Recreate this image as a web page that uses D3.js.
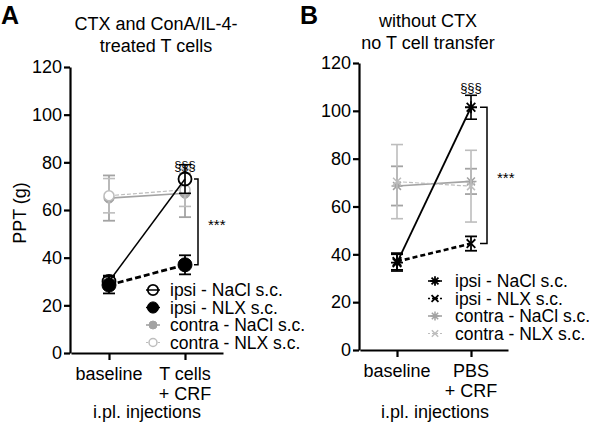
<!DOCTYPE html>
<html><head><meta charset="utf-8">
<script src="https://cdn.jsdelivr.net/npm/d3@7"></script>
<style>
body{margin:0;background:#fff;}
text{font-family:Arial,"Liberation Sans",sans-serif;fill:#000;}
</style></head>
<body>
<svg id="c" width="600" height="426"></svg>
<script>
// ---------- data ----------
const yTicks = [0,20,40,60,80,100,120];
const categoriesA = [["baseline"],["T cells","+ CRF"]];
const categoriesB = [["baseline"],["PBS","+ CRF"]];
const seriesNames = ["ipsi - NaCl s.c.","ipsi - NLX s.c.","contra - NaCl s.c.","contra - NLX s.c."];

const ipsiNaClA = [30, 73];     const ipsiNaClA_err = [2.5, 6];
const ipsiNLXA = [28.5, 37];    const ipsiNLXA_err = [3.5, 4];
const contraNaClA = [65, 67];   const contraNaClA_err = [9.5, 10];
const contraNLXA = [66, 68.5];  const contraNLXA_err = [7.2, 7];

const ipsiNaClB = [36.5, 101.5];  const ipsiNaClB_err = [3.5, 5];
const ipsiNLXB = [37, 44.5];      const ipsiNLXB_err = [3.5, 3];
const contraNaClB = [68.6, 70.5]; const contraNaClB_err = [8.2, 5.3];
const contraNLXB = [70.4, 68.5];  const contraNLXB_err = [15.5, 15];

const svg = d3.select("#c");
const BLACK = "#000", GREY = "#a3a3a3", LGREY = "#bdbdbd";

// custom 8-arm asterisk symbol
const symStar = { draw(ctx, size){ const r = Math.sqrt(size)/2; const d = r*0.72;
  ctx.moveTo(-r,0); ctx.lineTo(r,0); ctx.moveTo(0,-r); ctx.lineTo(0,r);
  ctx.moveTo(-d,-d); ctx.lineTo(d,d); ctx.moveTo(-d,d); ctx.lineTo(d,-d);} };
const symX = { draw(ctx, size){ const d = Math.sqrt(size)/2*0.72;
  ctx.moveTo(-d,-d); ctx.lineTo(d,d); ctx.moveTo(-d,d); ctx.lineTo(d,-d);} };

function panel(cfg){
  const x = d3.scaleLinear().domain([-0.5,1.5]).range(cfg.xr);
  const y = d3.scaleLinear().domain([0,120]).range(cfg.yr);
  const g = svg.append("g");
  // axes
  const ya = g.append("g").attr("transform",`translate(${cfg.xr[0]-1},0)`)
    .call(d3.axisLeft(y).tickValues(yTicks).tickSize(6).tickPadding(2).tickSizeOuter(0));
  const xa = g.append("g").attr("transform",`translate(0,${cfg.yr[0]})`)
    .call(d3.axisBottom(x).tickValues([0,1]).tickSize(7).tickFormat("").tickSizeOuter(0));
  [ya,xa].forEach(a=>{a.selectAll("path,line").attr("stroke","#000").attr("stroke-width",2.2);
    a.selectAll("text").attr("font-size",18).attr("fill","#000").attr("font-family","Arial, Liberation Sans");});
  // x category labels
  cfg.cats.forEach((lines,i)=>{
    lines.forEach((t,j)=>g.append("text").attr("x",x(i)).attr("y",cfg.yr[0]+27+j*20)
      .attr("text-anchor","middle").attr("font-size",18).text(t));
  });
  g.append("text").attr("x",cfg.xlabX).attr("y",418).attr("text-anchor","middle").attr("font-size",18).text("i.pl. injections");
  // titles
  cfg.title.forEach((t,j)=>g.append("text").attr("x",cfg.titleX).attr("y",cfg.titleY+j*22)
    .attr("text-anchor","middle").attr("font-size",18).text(t));
  g.append("text").attr("x",cfg.letterX).attr("y",24).attr("font-size",25).attr("font-weight","bold").text(cfg.letter);

  // series (draw grey first)
  const line = d3.line().x((d,i)=>x(i)).y(d=>y(d));
  const order = [2,3,0,1];
  order.forEach(k=>{
    const s = cfg.series[k];
    // error bars
    s.v.forEach((v,i)=>{
      const e = s.e[i];
      g.append("line").attr("x1",x(i)).attr("x2",x(i)).attr("y1",y(v-e)).attr("y2",y(v+e)).attr("stroke",s.ec).attr("stroke-width",s.ew);
      [v-e,v+e].forEach(c=>g.append("line").attr("x1",x(i)-6).attr("x2",x(i)+6).attr("y1",y(c)).attr("y2",y(c)).attr("stroke",s.ec).attr("stroke-width",s.ew));
    });
    g.append("path").attr("d",line(s.v)).attr("fill","none").attr("stroke",s.lc).attr("stroke-width",s.lw)
      .attr("stroke-dasharray",s.dash||null);
    s.v.forEach((v,i)=>drawMarker(g,s,x(i),y(v)));
  });
  // legend
  cfg.series.forEach((s,k)=>{
    const ly = cfg.legY + k*cfg.legDy;
    g.append("line").attr("x1",cfg.legX-7).attr("x2",cfg.legX+7).attr("y1",ly).attr("y2",ly)
      .attr("stroke",s.lc).attr("stroke-width",Math.min(s.lw,1.6)).attr("stroke-dasharray",s.dash?"2,2":null);
    drawMarker(g,s,cfg.legX,ly,0.8);
    g.append("text").attr("x",cfg.legTX).attr("y",ly+6.3).attr("font-size",17.5).text(seriesNames[k]);
  });
  // significance
  const s0 = cfg.series[0], s1 = cfg.series[1];
  g.append("path").attr("d",`M${x(1)+9},${y(s0.v[1])}H${cfg.brX}V${y(s1.v[1])}H${x(1)+9}`)
    .attr("fill","none").attr("stroke","#000").attr("stroke-width",1.5);
  g.append("text").attr("x",x(1)).attr("y",cfg.sectY).attr("text-anchor","middle").attr("font-size",13)
    .attr("fill","#000").style("fill","#000").text("§§§");
  g.append("text").attr("x",cfg.starX).attr("y",cfg.starY).attr("font-size",15).text("***");
}

function drawMarker(g,s,cx,cy,sc=1){
  if(s.m==="circle"){
    g.append("circle").attr("cx",cx).attr("cy",cy).attr("r",s.r*sc)
      .attr("fill",s.fill).attr("stroke",s.mc).attr("stroke-width",s.mw);
  } else {
    g.append("path").attr("transform",`translate(${cx},${cy})`)
      .attr("d",d3.symbol().type(s.m==="star"?symStar:symX).size((s.r*2*sc)**2)())
      .attr("fill","none").attr("stroke",s.mc).attr("stroke-width",s.mw);
  }
}

panel({
  xr:[71,223], yr:[353,67], cats:categoriesA, xlabX:147, titleX:156, titleY:30,
  title:["CTX and ConA/IL-4-","treated T cells"], letter:"A", letterX:1,
  legX:153, legTX:170, legY:290, legDy:17.5, brX:198, sectY:170, starX:208, starY:230,
  series:[
    {v:ipsiNaClA,e:ipsiNaClA_err,m:"circle",r:6.5,fill:"none",mc:BLACK,mw:1.8,lc:BLACK,lw:1.5,ec:BLACK,ew:1.6},
    {v:ipsiNLXA,e:ipsiNLXA_err,m:"circle",r:7,fill:BLACK,mc:BLACK,mw:1,lc:BLACK,lw:2.8,dash:"6,3",ec:BLACK,ew:1.8},
    {v:contraNaClA,e:contraNaClA_err,m:"circle",r:5,fill:GREY,mc:GREY,mw:1,lc:GREY,lw:1.6,ec:GREY,ew:1.8},
    {v:contraNLXA,e:contraNLXA_err,m:"circle",r:5,fill:"#fff",mc:LGREY,mw:1.5,lc:LGREY,lw:1.2,dash:"4,2",ec:LGREY,ew:1.6}
  ]
});
panel({
  xr:[360,508], yr:[350,63], cats:categoriesB, xlabX:435, titleX:428, titleY:27,
  title:["without CTX","no T cell transfer"], letter:"B", letterX:300,
  legX:435, legTX:455, legY:281, legDy:17.5, brX:487, sectY:92, starX:497, starY:183,
  series:[
    {v:ipsiNaClB,e:ipsiNaClB_err,m:"star",r:6,mc:BLACK,mw:1.8,lc:BLACK,lw:1.8,ec:BLACK,ew:1.6},
    {v:ipsiNLXB,e:ipsiNLXB_err,m:"x",r:6,mc:BLACK,mw:1.8,lc:BLACK,lw:2.6,dash:"5,3",ec:BLACK,ew:1.8},
    {v:contraNaClB,e:contraNaClB_err,m:"star",r:5.5,mc:GREY,mw:1.5,lc:GREY,lw:1.6,ec:GREY,ew:1.8},
    {v:contraNLXB,e:contraNLXB_err,m:"x",r:5.5,mc:LGREY,mw:1.5,lc:LGREY,lw:1.2,dash:"4,2",ec:LGREY,ew:1.6}
  ]
});

// y-axis label
svg.append("text").attr("transform","translate(26,213) rotate(-90)").attr("text-anchor","middle")
  .attr("font-size",18).text("PPT (g)");
</script>
</body></html>
